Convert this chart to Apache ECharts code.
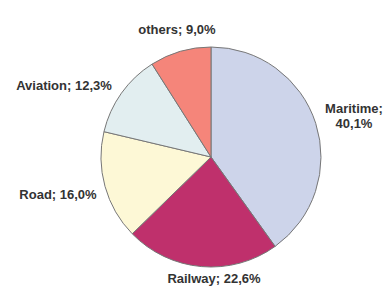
<!DOCTYPE html>
<html>
<head>
<meta charset="utf-8">
<script src="https://cdn.jsdelivr.net/npm/echarts@6/dist/echarts.min.js"></script>
<style>
  html, body { margin: 0; padding: 0; background: #fff; }
  #chart { width: 387px; height: 286px; }
</style>
</head>
<body>
<div id="chart"></div>
<script>
// transport modes share pie
var categories = ['Maritime', 'Railway', 'Road', 'Aviation', 'others'];
var shares = [40.1, 22.6, 16.0, 12.3, 9.0];
var sliceColors = ['#cdd4ea', '#bf306c', '#fdf8d6', '#e2eef0', '#f5857a'];
// label centres (px), placed like the original
var labelSpots = [[354, 116], [214, 278], [58, 194], [64, 85], [177, 29]];

(function () {
  var chart = echarts.init(document.getElementById('chart'), null, { renderer: 'svg' });

  var data = categories.map(function (name, i) {
    return { name: name, value: shares[i] };
  });

  chart.setOption({
    animation: false,
    color: sliceColors,
    series: [{
      type: 'pie',
      center: [211, 157],
      radius: 110,
      startAngle: 90,
      clockwise: true,
      itemStyle: { borderColor: '#777', borderWidth: 1 },
      label: {
        position: 'outside',
        color: '#333',
        fontFamily: 'Liberation Sans, Arial, sans-serif',
        fontWeight: 'bold',
        fontSize: 13,
        letterSpacing: 0.5,
        lineHeight: 15,
        align: 'center',
        overflow: 'none',
        formatter: function (p) {
          var v = p.value.toFixed(1).replace('.', ',') + '%';
          return p.dataIndex === 0 ? p.name + ';\n' + v : p.name + '; ' + v;
        }
      },
      labelLine: { show: false },
      labelLayout: function (p) {
        var s = labelSpots[p.dataIndex];
        return { x: s[0], y: s[1], align: 'center', verticalAlign: 'middle', hideOverlap: false };
      },
      data: data
    }]
  });
})();
</script>
</body>
</html>
